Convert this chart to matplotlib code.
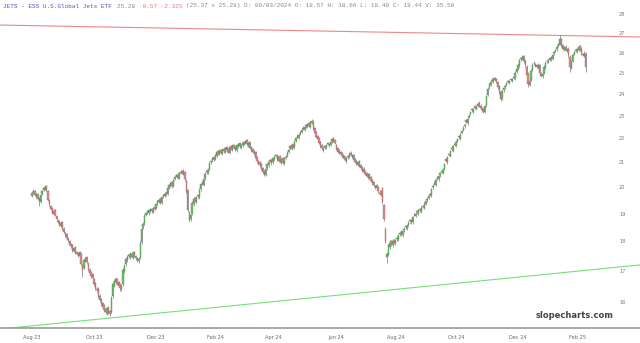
import matplotlib
matplotlib.use("Agg")
import matplotlib.pyplot as plt
import matplotlib.ticker as mticker
import numpy as np

# JETS daily candles, Aug 2023 .. Feb 2025, one row per month
month_names = ["Aug 23", "Sep 23", "Oct 23", "Nov 23", "Dec 23", "Jan 24", "Feb 24",
               "Mar 24", "Apr 24", "May 24", "Jun 24", "Jul 24", "Aug 24", "Sep 24",
               "Oct 24", "Nov 24", "Dec 24", "Jan 25", "Feb 25"]

closes = [
    [19.78, 19.82, 19.70, 19.74, 19.55, 19.46, 19.72, 19.85, 19.96, 20.02, 19.90, 19.52, 19.38, 19.16, 19.04, 19.10, 18.94, 18.80, 18.71, 18.60, 18.66, 18.46, 18.35],
    [18.22, 18.12, 18.04, 17.88, 17.84, 17.70, 17.76, 17.64, 17.58, 17.52, 17.62, 17.24, 17.02, 17.36, 17.42, 17.28, 17.02, 16.92, 16.84, 16.76],
    [16.56, 16.44, 16.38, 16.18, 16.06, 15.94, 15.86, 15.76, 15.70, 15.80, 15.68, 15.64, 16.12, 16.58, 16.66, 16.72, 16.60, 16.52, 16.44, 16.50, 17.02, 17.16],
    [17.40, 17.46, 17.50, 17.56, 17.48, 17.60, 17.52, 17.42, 17.36, 17.40, 17.96, 18.46, 18.62, 18.92, 19.02, 19.06, 19.12, 19.16, 19.10, 19.20, 19.18],
    [19.36, 19.46, 19.52, 19.42, 19.62, 19.70, 19.76, 19.72, 19.96, 20.10, 20.16, 20.04, 20.30, 20.42, 20.46, 20.38, 20.56, 20.62, 20.58, 20.66],
    [20.32, 19.84, 19.12, 18.78, 18.96, 19.40, 19.56, 19.48, 19.62, 19.66, 19.90, 20.12, 20.14, 20.32, 20.54, 20.62, 20.70, 20.96, 21.04, 21.16, 21.10],
    [21.30, 21.42, 21.36, 21.48, 21.40, 21.52, 21.46, 21.58, 21.50, 21.44, 21.62, 21.56, 21.68, 21.60, 21.54, 21.70, 21.76, 21.66, 21.72, 21.80],
    [21.84, 21.88, 21.74, 21.82, 21.60, 21.50, 21.44, 21.38, 21.18, 21.04, 20.96, 20.88, 20.74, 20.60, 20.54, 20.72, 20.92, 21.02, 21.06, 20.96],
    [21.16, 21.22, 21.26, 21.10, 21.20, 21.04, 21.12, 20.98, 21.14, 21.22, 21.40, 21.52, 21.60, 21.70, 21.64, 21.86, 22.00, 22.06, 22.16, 22.26, 22.34, 22.40],
    [22.48, 22.56, 22.62, 22.54, 22.70, 22.76, 22.40, 22.22, 22.08, 21.98, 21.80, 21.66, 21.58, 21.56, 21.66, 21.72, 21.76, 21.70, 21.86, 21.96, 21.90, 21.80],
    [21.56, 21.44, 21.40, 21.34, 21.24, 21.18, 21.10, 21.16, 21.26, 21.36, 21.30, 21.28, 21.10, 21.02, 20.94, 21.00, 20.86, 20.76, 20.70],
    [20.62, 20.54, 20.46, 20.50, 20.38, 20.26, 20.16, 20.08, 20.04, 19.98, 19.86, 19.80, 19.74, 19.42, 18.80, 18.00, 17.56, 17.86, 17.96, 17.90, 18.02, 17.98],
    [18.04, 18.12, 18.22, 18.30, 18.26, 18.36, 18.46, 18.52, 18.56, 18.66, 18.72, 18.70, 18.86, 18.96, 19.00, 19.06, 19.12, 19.14, 19.22, 19.26, 19.36, 19.46],
    [19.56, 19.66, 19.72, 19.92, 20.06, 20.14, 20.30, 20.36, 20.44, 20.56, 20.62, 20.70, 20.92, 21.06, 21.20, 21.30, 21.46, 21.54, 21.66, 21.72],
    [21.86, 21.96, 22.04, 22.16, 22.30, 22.46, 22.60, 22.72, 22.86, 23.00, 23.14, 23.24, 23.30, 23.36, 23.40, 23.50, 23.46, 23.34, 23.24, 23.20, 23.42, 23.90, 24.22],
    [24.44, 24.56, 24.62, 24.70, 24.64, 24.58, 24.30, 24.06, 23.76, 24.12, 24.26, 24.36, 24.50, 24.56, 24.60, 24.64, 24.70, 24.76, 25.00, 25.16],
    [25.40, 25.62, 25.74, 25.80, 25.56, 25.36, 24.90, 24.46, 24.62, 25.10, 25.40, 25.46, 25.34, 25.30, 25.40, 25.00, 24.86, 24.96, 25.30, 25.50, 25.56],
    [25.60, 25.72, 25.66, 25.90, 26.02, 26.10, 26.30, 26.44, 26.70, 26.36, 26.20, 26.26, 26.12, 26.16, 25.86, 25.30, 25.56, 25.90, 26.04, 26.12],
    [26.18, 26.30, 26.14, 25.96, 25.92, 25.85, 25.28],
]

opens = [
    [19.66, 19.84, 19.86, 19.66, 19.76, 19.58, 19.44, 19.76, 19.90, 19.94, 20.06, 19.84, 19.48, 19.30, 19.20, 18.98, 19.14, 18.90, 18.74, 18.70, 18.56, 18.70, 18.44],
    [18.30, 18.26, 18.10, 18.02, 17.92, 17.86, 17.68, 17.80, 17.62, 17.60, 17.50, 17.58, 17.20, 17.10, 17.32, 17.46, 17.24, 17.04, 16.96, 16.88],
    [16.72, 16.60, 16.40, 16.42, 16.20, 16.10, 15.96, 15.90, 15.78, 15.66, 15.84, 15.72, 15.70, 16.20, 16.52, 16.62, 16.74, 16.62, 16.56, 16.40, 16.56, 17.00],
    [17.22, 17.36, 17.52, 17.46, 17.58, 17.46, 17.64, 17.50, 17.44, 17.32, 17.44, 17.98, 18.50, 18.66, 18.96, 19.08, 19.02, 19.10, 19.18, 19.08, 19.24],
    [19.22, 19.40, 19.44, 19.56, 19.40, 19.66, 19.68, 19.80, 19.74, 19.98, 20.06, 20.20, 20.06, 20.34, 20.50, 20.48, 20.36, 20.58, 20.66, 20.54],
    [20.60, 20.26, 19.90, 19.04, 18.82, 19.02, 19.36, 19.60, 19.44, 19.70, 19.62, 19.92, 20.20, 20.10, 20.36, 20.66, 20.58, 20.74, 21.00, 21.08, 21.20],
    [21.14, 21.26, 21.46, 21.34, 21.52, 21.38, 21.56, 21.44, 21.62, 21.54, 21.40, 21.66, 21.52, 21.72, 21.62, 21.50, 21.66, 21.80, 21.62, 21.70],
    [21.76, 21.80, 21.92, 21.70, 21.86, 21.64, 21.54, 21.48, 21.42, 21.22, 21.00, 21.02, 20.92, 20.78, 20.64, 20.50, 20.76, 20.88, 21.08, 21.10],
    [21.00, 21.12, 21.30, 21.28, 21.06, 21.24, 21.00, 21.16, 20.96, 21.18, 21.26, 21.44, 21.66, 21.56, 21.74, 21.62, 21.90, 22.12, 22.02, 22.20, 22.28, 22.46],
    [22.36, 22.52, 22.50, 22.68, 22.50, 22.68, 22.72, 22.44, 22.28, 22.12, 22.02, 21.84, 21.70, 21.50, 21.60, 21.62, 21.80, 21.78, 21.72, 21.88, 22.00, 21.94],
    [21.72, 21.60, 21.50, 21.44, 21.38, 21.28, 21.22, 21.04, 21.20, 21.22, 21.40, 21.22, 21.30, 21.14, 21.06, 20.90, 21.04, 20.90, 20.80],
    [20.74, 20.66, 20.58, 20.40, 20.52, 20.42, 20.30, 20.20, 20.00, 20.10, 20.02, 19.76, 19.84, 19.96, 19.33, 18.45, 17.45, 17.54, 17.80, 18.00, 17.86, 18.06],
    [17.94, 18.10, 18.08, 18.26, 18.34, 18.22, 18.40, 18.56, 18.48, 18.60, 18.78, 18.76, 18.68, 19.00, 18.92, 19.10, 19.02, 19.18, 19.10, 19.28, 19.22, 19.38],
    [19.50, 19.60, 19.76, 19.70, 20.00, 20.18, 20.10, 20.40, 20.32, 20.48, 20.66, 20.58, 20.74, 21.12, 21.00, 21.34, 21.26, 21.58, 21.50, 21.76],
    [21.70, 21.90, 22.10, 22.00, 22.24, 22.36, 22.52, 22.80, 22.66, 22.94, 23.08, 23.30, 23.18, 23.42, 23.30, 23.44, 23.58, 23.44, 23.36, 23.28, 23.16, 23.46, 23.96],
    [24.30, 24.40, 24.66, 24.58, 24.74, 24.70, 24.54, 24.34, 24.10, 23.80, 24.18, 24.30, 24.40, 24.62, 24.52, 24.70, 24.62, 24.80, 24.72, 25.04],
    [25.20, 25.36, 25.66, 25.70, 25.84, 25.60, 25.30, 24.96, 24.40, 24.66, 25.14, 25.50, 25.44, 25.38, 25.24, 25.36, 24.96, 24.82, 25.00, 25.26, 25.60],
    [25.52, 25.64, 25.78, 25.70, 25.96, 26.14, 26.16, 26.34, 26.40, 26.68, 26.40, 26.16, 26.30, 26.08, 26.20, 25.80, 25.24, 25.60, 25.94, 26.10],
    [26.06, 26.14, 26.34, 26.20, 25.90, 26.00, 25.95],
]

highs = [
    [19.84, 19.92, 19.90, 19.80, 19.80, 19.62, 19.76, 19.90, 20.02, 20.10, 20.10, 19.88, 19.54, 19.34, 19.24, 19.16, 19.18, 18.96, 18.82, 18.76, 18.72, 18.74, 18.50],
    [18.36, 18.30, 18.16, 18.06, 17.96, 17.90, 17.82, 17.84, 17.68, 17.64, 17.68, 17.62, 17.24, 17.40, 17.48, 17.50, 17.28, 17.08, 17.00, 16.92],
    [16.78, 16.64, 16.48, 16.46, 16.24, 16.14, 16.00, 15.94, 15.82, 15.86, 15.88, 15.76, 16.18, 16.62, 16.72, 16.80, 16.78, 16.66, 16.60, 16.56, 17.08, 17.24],
    [17.46, 17.52, 17.58, 17.62, 17.62, 17.66, 17.68, 17.54, 17.48, 17.46, 18.02, 18.52, 18.68, 18.98, 19.08, 19.14, 19.18, 19.22, 19.22, 19.26, 19.28],
    [19.40, 19.52, 19.58, 19.60, 19.66, 19.76, 19.82, 19.84, 20.00, 20.14, 20.22, 20.24, 20.34, 20.48, 20.54, 20.52, 20.60, 20.68, 20.70, 20.72],
    [20.66, 20.32, 19.94, 19.10, 19.04, 19.46, 19.62, 19.64, 19.68, 19.76, 19.96, 20.18, 20.24, 20.38, 20.60, 20.72, 20.76, 21.02, 21.10, 21.22, 21.26],
    [21.36, 21.48, 21.50, 21.54, 21.56, 21.58, 21.62, 21.64, 21.66, 21.58, 21.68, 21.72, 21.74, 21.76, 21.66, 21.76, 21.82, 21.84, 21.78, 21.86],
    [21.90, 21.94, 21.96, 21.86, 21.90, 21.68, 21.58, 21.52, 21.46, 21.26, 21.08, 21.06, 20.96, 20.82, 20.68, 20.78, 20.98, 21.08, 21.14, 21.14],
    [21.22, 21.28, 21.36, 21.32, 21.26, 21.28, 21.18, 21.20, 21.20, 21.28, 21.46, 21.58, 21.72, 21.76, 21.78, 21.92, 22.06, 22.18, 22.22, 22.32, 22.40, 22.52],
    [22.54, 22.62, 22.68, 22.72, 22.76, 22.84, 22.78, 22.50, 22.32, 22.16, 22.06, 21.88, 21.74, 21.62, 21.72, 21.78, 21.84, 21.82, 21.92, 22.02, 22.06, 21.98],
    [21.78, 21.64, 21.56, 21.48, 21.42, 21.32, 21.26, 21.22, 21.30, 21.42, 21.46, 21.34, 21.34, 21.18, 21.10, 21.06, 21.08, 20.94, 20.84],
    [20.80, 20.70, 20.62, 20.56, 20.58, 20.46, 20.34, 20.24, 20.10, 20.14, 20.06, 19.90, 19.90, 20.00, 19.38, 18.50, 17.64, 17.92, 18.04, 18.06, 18.08, 18.10],
    [18.10, 18.18, 18.28, 18.36, 18.40, 18.42, 18.52, 18.60, 18.62, 18.72, 18.82, 18.80, 18.92, 19.04, 19.06, 19.14, 19.18, 19.22, 19.28, 19.32, 19.42, 19.52],
    [19.62, 19.72, 19.80, 19.98, 20.12, 20.24, 20.36, 20.46, 20.50, 20.62, 20.72, 20.76, 20.98, 21.18, 21.26, 21.40, 21.52, 21.64, 21.72, 21.82],
    [21.92, 22.02, 22.16, 22.22, 22.36, 22.52, 22.66, 22.86, 22.92, 23.06, 23.20, 23.36, 23.36, 23.48, 23.46, 23.56, 23.64, 23.50, 23.40, 23.34, 23.48, 23.96, 24.30],
    [24.52, 24.62, 24.72, 24.78, 24.80, 24.76, 24.60, 24.40, 24.14, 24.18, 24.32, 24.42, 24.56, 24.66, 24.66, 24.76, 24.76, 24.86, 25.06, 25.22],
    [25.46, 25.68, 25.80, 25.88, 25.90, 25.66, 25.36, 25.02, 24.68, 25.16, 25.46, 25.56, 25.50, 25.44, 25.46, 25.42, 25.02, 25.02, 25.36, 25.56, 25.68],
    [25.66, 25.80, 25.84, 25.96, 26.08, 26.20, 26.36, 26.50, 26.90, 26.74, 26.46, 26.32, 26.36, 26.22, 26.26, 25.86, 25.62, 25.96, 26.10, 26.20],
    [26.24, 26.36, 26.40, 26.26, 26.00, 26.06, 26.02],
]

lows = [
    [19.62, 19.74, 19.66, 19.60, 19.50, 19.30, 19.40, 19.70, 19.84, 19.90, 19.86, 19.48, 19.30, 19.12, 18.98, 18.94, 18.90, 18.76, 18.66, 18.56, 18.52, 18.40, 18.30],
    [18.16, 18.06, 17.98, 17.84, 17.78, 17.64, 17.62, 17.58, 17.52, 17.46, 17.46, 17.20, 16.80, 17.06, 17.28, 17.22, 16.98, 16.86, 16.78, 16.70],
    [16.50, 16.38, 16.30, 16.12, 16.00, 15.88, 15.80, 15.70, 15.62, 15.60, 15.62, 15.56, 15.66, 16.14, 16.46, 16.56, 16.54, 16.46, 16.36, 16.34, 16.50, 16.94],
    [17.16, 17.30, 17.42, 17.40, 17.42, 17.40, 17.46, 17.36, 17.30, 17.26, 17.40, 17.92, 18.44, 18.60, 18.90, 18.98, 18.96, 19.04, 19.04, 19.02, 19.12],
    [19.16, 19.34, 19.40, 19.36, 19.36, 19.60, 19.62, 19.66, 19.70, 19.92, 20.02, 19.98, 20.00, 20.28, 20.40, 20.32, 20.32, 20.54, 20.52, 20.50],
    [20.26, 19.78, 19.06, 18.70, 18.74, 18.96, 19.30, 19.42, 19.38, 19.58, 19.56, 19.86, 20.08, 20.04, 20.30, 20.54, 20.52, 20.68, 20.94, 21.02, 21.04],
    [21.08, 21.20, 21.30, 21.28, 21.34, 21.32, 21.40, 21.38, 21.44, 21.38, 21.34, 21.50, 21.46, 21.54, 21.48, 21.44, 21.60, 21.60, 21.56, 21.64],
    [21.70, 21.74, 21.68, 21.64, 21.54, 21.44, 21.38, 21.32, 21.12, 20.98, 20.90, 20.82, 20.68, 20.54, 20.46, 20.44, 20.70, 20.82, 21.00, 20.90],
    [20.94, 21.06, 21.20, 21.04, 21.00, 20.98, 20.94, 20.92, 20.90, 21.12, 21.20, 21.38, 21.54, 21.50, 21.58, 21.56, 21.84, 22.00, 21.96, 22.14, 22.22, 22.34],
    [22.30, 22.46, 22.44, 22.48, 22.46, 22.62, 22.34, 22.16, 22.02, 21.92, 21.74, 21.60, 21.52, 21.44, 21.54, 21.56, 21.70, 21.64, 21.66, 21.82, 21.84, 21.74],
    [21.50, 21.38, 21.34, 21.28, 21.18, 21.12, 21.04, 20.98, 21.14, 21.16, 21.24, 21.16, 21.04, 20.96, 20.88, 20.86, 20.80, 20.70, 20.62],
    [20.56, 20.48, 20.40, 20.34, 20.32, 20.20, 20.10, 20.02, 19.94, 19.92, 19.80, 19.70, 19.68, 19.36, 18.74, 17.94, 17.25, 17.50, 17.74, 17.84, 17.80, 17.92],
    [17.88, 18.02, 18.02, 18.20, 18.20, 18.16, 18.34, 18.46, 18.42, 18.54, 18.66, 18.62, 18.62, 18.90, 18.86, 18.98, 18.96, 19.08, 19.04, 19.20, 19.16, 19.32],
    [19.42, 19.54, 19.66, 19.64, 19.94, 20.08, 20.04, 20.30, 20.26, 20.42, 20.56, 20.52, 20.68, 21.00, 20.94, 21.24, 21.20, 21.48, 21.44, 21.66],
    [21.64, 21.84, 21.98, 21.94, 22.18, 22.30, 22.46, 22.66, 22.60, 22.88, 23.02, 23.18, 23.12, 23.30, 23.24, 23.38, 23.40, 23.28, 23.18, 23.12, 23.10, 23.40, 23.90],
    [24.24, 24.34, 24.54, 24.52, 24.58, 24.52, 24.24, 24.00, 23.68, 23.72, 24.10, 24.24, 24.34, 24.48, 24.46, 24.58, 24.56, 24.68, 24.66, 24.98],
    [25.14, 25.30, 25.60, 25.64, 25.50, 25.30, 24.84, 24.30, 24.34, 24.60, 25.08, 25.40, 25.28, 25.24, 25.18, 24.94, 24.80, 24.76, 24.94, 25.20, 25.50],
    [25.46, 25.58, 25.60, 25.64, 25.90, 26.04, 26.10, 26.28, 26.36, 26.30, 26.14, 26.10, 26.06, 26.02, 25.80, 25.02, 25.18, 25.54, 25.88, 26.02],
    [26.00, 26.08, 26.08, 25.90, 25.84, 25.78, 25.05],
]

# trendlines drawn on the chart (bar index, price)
red_trend_x = [-22, 422]
red_trend_y = [27.43, 26.80]
green_trend_x = [-22, 422]
green_trend_y = [15.18, 17.20]

price_ticks = list(range(16, 29))

o = np.concatenate(opens)
h = np.concatenate(highs)
l = np.concatenate(lows)
c = np.concatenate(closes)
x = np.arange(len(c))

month_len = [len(m) for m in closes]
month_start = np.concatenate([[0], np.cumsum(month_len)[:-1]])

fig = plt.figure(figsize=(6.4, 3.43), dpi=100)
ax = fig.add_axes([0, 15 / 343, 1, 328 / 343])
ax.set_yscale("log")

up = c >= o
body_col = np.where(up, "#6cc46c", "#e08a8a")
edge_col = np.where(up, "#3f7f3f", "#9a5a5a")
ax.vlines(x, l, h, color="#6a6a6a", linewidth=0.45, zorder=2)
ax.bar(x, np.maximum(np.abs(c - o), 0.03), bottom=np.minimum(o, c), width=0.9,
       color=body_col, edgecolor=edge_col, linewidth=0.25, zorder=3)

ax.plot(red_trend_x, red_trend_y, color="#ee8888", linewidth=0.8, zorder=1)
ax.plot(green_trend_x, green_trend_y, color="#77dd77", linewidth=0.8, zorder=1)

ax.set_xlim(-22.2, 421.6)
ax.set_ylim(15.21, 28.80)

for s in ["top", "left", "right"]:
    ax.spines[s].set_visible(False)
ax.spines["bottom"].set_color("#999999")
ax.spines["bottom"].set_linewidth(1.2)

ax.set_xticks(month_start[::2])
ax.set_xticklabels(month_names[::2])
ax.tick_params(axis="x", length=0, pad=5, labelsize=3.6, labelcolor="#666666")

ax.yaxis.tick_right()
ax.yaxis.set_major_locator(mticker.FixedLocator(price_ticks))
ax.yaxis.set_major_formatter(mticker.FixedFormatter([str(t) for t in price_ticks]))
ax.yaxis.set_minor_locator(mticker.NullLocator())
ax.tick_params(axis="y", length=0, pad=-15, labelsize=3.6, labelcolor="#777777")

# header line
fs = 4.4
cw = 0.6 * fs * 100 / 72 / 640
parts = [("JETS - ESS U.S.Global Jets ETF ", "#5555bb"),
         ("25.28 ", "#888888"),
         ("-0.57 -2.32% ", "#ee7777"),
         ("(25.37 x 25.28) D: 09/03/2024 O: 18.57 H: 18.66 L: 18.40 C: 18.44 V: 35.50", "#888888")]
px = 3 / 640
for txt, col in parts:
    fig.text(px, 1 - 6 / 343, txt, fontsize=fs, color=col, family="Liberation Mono", va="center")
    px += len(txt) * cw

fig.text(575 / 640, 1 - 316 / 343, "slopecharts.com", fontsize=6, fontweight="bold",
         color="#444444", ha="center", va="center")

fig.savefig("out.png", dpi=100)
